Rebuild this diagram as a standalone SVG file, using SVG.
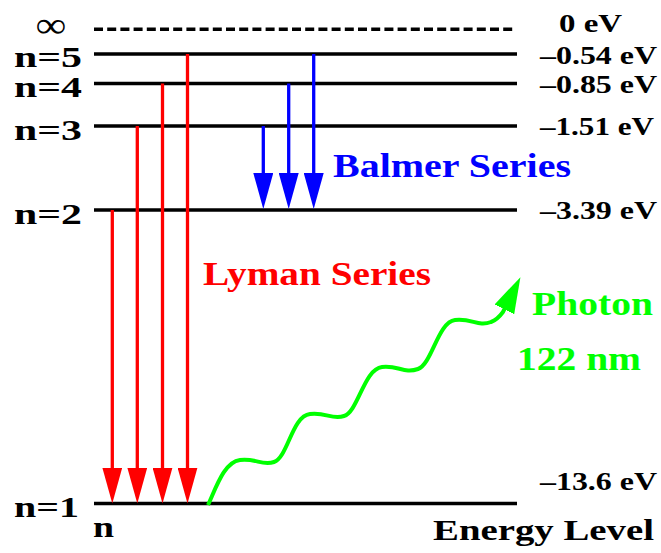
<svg xmlns="http://www.w3.org/2000/svg" width="661" height="553" viewBox="0 0 661 553">
<style>
.t{font-family:"Liberation Serif","Times New Roman",serif;font-weight:bold;}
.lbl{font-size:29px;fill:#000;}
.ev{font-size:26px;fill:#000;}
.big{font-size:33px;}
.lvl{stroke:#000;stroke-width:3.6;fill:none;}
.red{stroke:#FF0000;stroke-width:3.3;fill:none;}
.blue{stroke:#0000FF;stroke-width:3.3;fill:none;}
.green{stroke:#00FF00;stroke-width:4;fill:none;}
</style>
<defs>
<marker id="ahR" markerUnits="userSpaceOnUse" markerWidth="36" markerHeight="20" viewBox="0 0 36 20" refX="6" refY="10" orient="auto"><path d="M0,0 L36,10 L0,20 z" fill="#FF0000"/></marker>
<marker id="ahB" markerUnits="userSpaceOnUse" markerWidth="36" markerHeight="20" viewBox="0 0 36 20" refX="6" refY="10" orient="auto"><path d="M0,0 L36,10 L0,20 z" fill="#0000FF"/></marker>
<marker id="ahG" markerUnits="userSpaceOnUse" markerWidth="36" markerHeight="22" viewBox="0 0 36 22" refX="6" refY="11" orient="auto"><path d="M0,0 L36,11 L0,22 z" fill="#00FF00"/></marker>
</defs>
<rect width="661" height="553" fill="#fff"/>

<g id="level-inf">
<line class="lvl" x1="94" y1="29.3" x2="516" y2="29.3" stroke-dasharray="9 4.2"/>
<text class="t" x="36" y="37" font-size="36" textLength="30" lengthAdjust="spacingAndGlyphs">∞</text>
<text class="t ev" x="559" y="32" textLength="63" lengthAdjust="spacingAndGlyphs">0 eV</text>
</g>
<g id="level-5">
<line class="lvl" x1="94" y1="54" x2="517" y2="54"/>
<text class="t lbl" x="14" y="67" textLength="68" lengthAdjust="spacingAndGlyphs">n=5</text>
<text class="t ev" x="540" y="64" textLength="117" lengthAdjust="spacingAndGlyphs">–0.54 eV</text>
</g>
<g id="level-4">
<line class="lvl" x1="94" y1="83.5" x2="517" y2="83.5"/>
<text class="t lbl" x="14" y="97" textLength="68" lengthAdjust="spacingAndGlyphs">n=4</text>
<text class="t ev" x="540" y="93" textLength="117" lengthAdjust="spacingAndGlyphs">–0.85 eV</text>
</g>
<g id="level-3">
<line class="lvl" x1="94" y1="126" x2="517" y2="126"/>
<text class="t lbl" x="14" y="140" textLength="68" lengthAdjust="spacingAndGlyphs">n=3</text>
<text class="t ev" x="540" y="135" textLength="114" lengthAdjust="spacingAndGlyphs">–1.51 eV</text>
</g>
<g id="level-2">
<line class="lvl" x1="94" y1="210" x2="517" y2="210"/>
<text class="t lbl" x="14" y="224" textLength="68" lengthAdjust="spacingAndGlyphs">n=2</text>
<text class="t ev" x="540" y="219" textLength="117" lengthAdjust="spacingAndGlyphs">–3.39 eV</text>
</g>
<g id="level-1">
<line class="lvl" x1="94" y1="503.5" x2="517" y2="503.5"/>
<text class="t lbl" x="14" y="517" textLength="65" lengthAdjust="spacingAndGlyphs">n=1</text>
<text class="t ev" x="540" y="490" textLength="117" lengthAdjust="spacingAndGlyphs">–13.6 eV</text>
</g>
<g id="axis-labels">
<text class="t" x="93" y="537" font-size="30" textLength="21" lengthAdjust="spacingAndGlyphs">n</text>
<text class="t" x="433" y="540" font-size="30" textLength="221" lengthAdjust="spacingAndGlyphs">Energy Level</text>
</g>
<g id="series-labels">
<text class="t big" x="333" y="177" fill="#0000FF" textLength="238" lengthAdjust="spacingAndGlyphs">Balmer Series</text>
<text class="t big" x="203" y="285" fill="#FF0000" textLength="228" lengthAdjust="spacingAndGlyphs">Lyman Series</text>
<text class="t big" x="532" y="315" fill="#00FF00" textLength="121" lengthAdjust="spacingAndGlyphs">Photon</text>
<text class="t big" x="517" y="370" fill="#00FF00" textLength="124" lengthAdjust="spacingAndGlyphs">122 nm</text>
</g>

<g id="connectors">
<line class="red" x1="112.3" y1="210" x2="112.3" y2="473.5" marker-end="url(#ahR)"/>
<line class="red" x1="137.3" y1="126" x2="137.3" y2="473.5" marker-end="url(#ahR)"/>
<line class="red" x1="162.5" y1="83.5" x2="162.5" y2="473.5" marker-end="url(#ahR)"/>
<line class="red" x1="187.5" y1="54" x2="187.5" y2="473.5" marker-end="url(#ahR)"/>
<line class="blue" x1="263.3" y1="126" x2="263.3" y2="179" marker-end="url(#ahB)"/>
<line class="blue" x1="288.7" y1="83.5" x2="288.7" y2="179" marker-end="url(#ahB)"/>
<line class="blue" x1="313.7" y1="54" x2="313.7" y2="179" marker-end="url(#ahB)"/>
<path class="green" d="M208,505 C216,488 224,462 240,460 C256,458 262,466 274,462 C288,457 292,416 310,414 C326,412 332,420 344,416 C358,412 364,369 382,367 C398,365 404,374 418,369 C432,364 438,322 455,320 C472,318 478,327 491,322 C497,320 500,316 503,312 L507,304" marker-end="url(#ahG)"/>
</g>
</svg>
